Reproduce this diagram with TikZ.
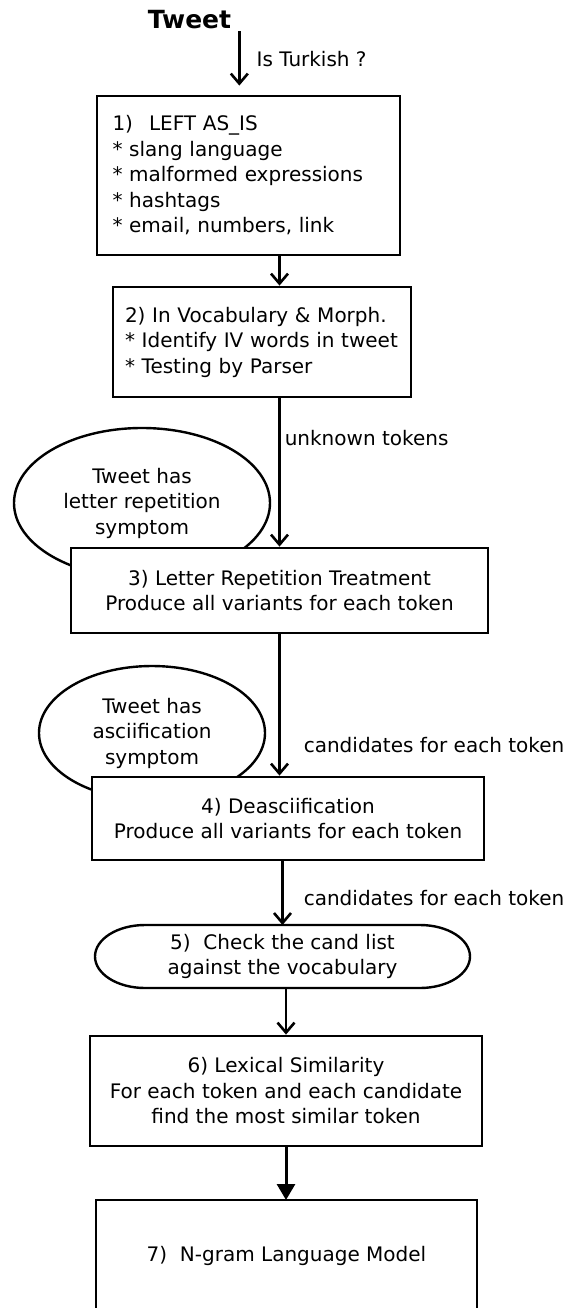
\documentclass[tikz,border=0pt]{standalone}
\usepackage{fontspec}
\setmainfont{DejaVu Sans}
\usetikzlibrary{arrows.meta, shapes.geometric}

\begin{document}
\begin{tikzpicture}[
    x=1pt, y=1pt,
    box/.style={rectangle, draw, fill=white, line width=2.8pt, inner sep=0pt,
                align=center, font=\fontsize{20}{25.5}\selectfont},
    lbox/.style={box, align=left},
    symp/.style={ellipse, draw, fill=white, line width=2.4pt, inner sep=0pt,
                 align=center, font=\fontsize{20}{25.5}\selectfont},
    lbl/.style={font=\fontsize{20}{24}\selectfont, inner sep=0pt},
    arr/.style={-{Straight Barb[length=10pt, width=17pt, line width=2.6pt]}, line width=2.6pt},
    farr/.style={-{Triangle[length=16pt, width=18pt]}, line width=3pt}
  ]
    \useasboundingbox (0,0) rectangle (566,-1308);

    \node[font=\fontsize{25}{30}\selectfont\bfseries, inner xsep=8pt, inner ysep=2pt]
      (tweet) at (189.5,-20) {Tweet};

    \node[lbox, text width=272pt, minimum width=303pt, minimum height=159pt] (b1) at (248.5,-175.5)
      {1)\hspace{16pt}LEFT AS\_IS\\{}
       * slang language\\{}
       * malformed expressions\\{}
       * hashtags\\{}
       * email, numbers, link};
    \node[lbox, text width=274pt, minimum width=298pt, minimum height=110pt] (b2) at (262,-342)
      {2) In Vocabulary \& Morph.\\{}
       * Identify IV words in tweet\\{}
       * Testing by Parser};

    % symptom checks sit behind the boxes
    \node[symp, minimum width=256pt, minimum height=150pt] (e1) at (142,-503)
      {Tweet has\\letter repetition\\symptom};
    \node[box, minimum width=417pt, minimum height=85pt] (b3) at (279.5,-590.5)
      {3) Letter Repetition Treatment\\Produce all variants for each token};

    \node[symp, minimum width=226pt, minimum height=134pt] (e2) at (152,-733)
      {Tweet has\\asciification\\symptom};
    \node[box, minimum width=392pt, minimum height=83pt] (b4) at (288,-818.5)
      {4) Deasciification\\Produce all variants for each token};

    \node[box, draw=none, fill=none, outer sep=0pt, minimum width=375pt, minimum height=63pt]
      (e5) at (282.5,-956.5) {5)~~Check the cand list\\against the vocabulary};
    \draw[line width=2.4pt] ([xshift=50pt]e5.north west) -- ([xshift=-50pt]e5.north east)
      arc[start angle=90, end angle=-90, x radius=50pt, y radius=31.5pt]
      -- ([xshift=50pt]e5.south west)
      arc[start angle=270, end angle=90, x radius=50pt, y radius=31.5pt] -- cycle;

    \node[box, minimum width=392pt, minimum height=110pt] (b6) at (286,-1091)
      {6) Lexical Similarity\\For each token and each candidate\\find the most similar token};

    \node[box, draw=none, outer sep=0pt, minimum width=381pt, minimum height=112pt]
      (b7) at (286.5,-1256) {7)~~N-gram Language Model};
    \draw[line width=2.8pt] (b7.south west) -- (b7.north west) -- (b7.north east) -- (b7.south east);

    \draw[arr, shorten >=9pt] (tweet.south east) -- (tweet.south east |- b1.north)
      node[lbl, midway, anchor=west, xshift=16pt, yshift=4pt] {Is Turkish ?};
    \draw[arr] (b1.south -| b3.north) -- (b2.north -| b3.north);
    \draw[arr] (b2.south -| b3.north) -- (b3.north)
      node[lbl, pos=0.265, anchor=west, xshift=4pt] {unknown tokens};
    \draw[arr] (b3.south) -- (b3.south |- b4.north)
      node[lbl, pos=0.78, anchor=west, xshift=23pt] {candidates for each token};
    \draw[arr] (b4.south -| e5.north) -- (e5.north)
      node[lbl, pos=0.57, anchor=west, xshift=20pt] {candidates for each token};
    \draw[arr] (e5.south -| b6.north) -- (b6.north);
    \draw[farr] (b6.south) -- (b6.south |- b7.north);
\end{tikzpicture}
\end{document}
